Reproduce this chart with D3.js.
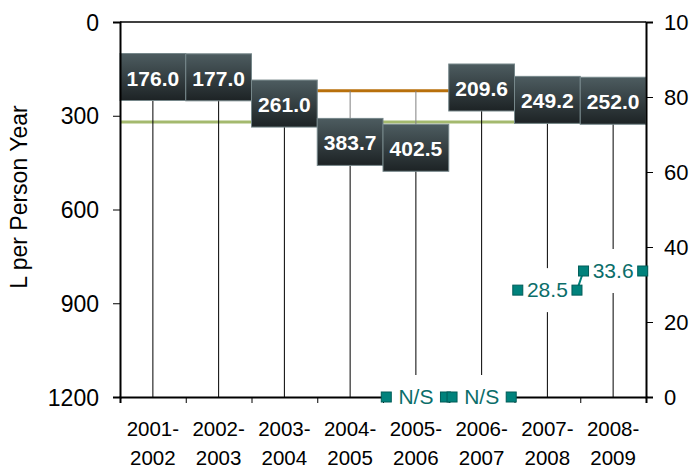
<!DOCTYPE html>
<html>
<head>
<meta charset="utf-8">
<script src="https://cdn.jsdelivr.net/npm/d3@7"></script>
<style>
  body { margin: 0; background: #fff; }
  text { font-family: "Liberation Sans", Arial, Helvetica, sans-serif; }
</style>
</head>
<body>
<div id="chart"></div>
<script>
const width = 689;
const height = 468;

// data
const categories = ["2001-2002", "2002-2003", "2003-2004", "2004-2005", "2005-2006", "2006-2007", "2007-2008", "2008-2009"];
const consumption = [176.0, 177.0, 261.0, 383.7, 402.5, 209.6, 249.2, 252.0];
const upperTarget = [220];   // orange reference
const lowerTarget = [320];   // green reference
const shareCategories = ["2005-2006", "2006-2007", "2007-2008", "2008-2009"];
const shareValues = [0, 0, 28.5, 33.6];
const shareLabels = ["N/S", "N/S", "28.5", "33.6"];
const leftTicks = [0, 300, 600, 900, 1200];
const rightTicks = [0, 20, 40, 60, 80, 100];

const plotLeft = 120, plotRight = 646, plotTop = 22, plotBottom = 397;

const svg = d3.select("#chart").append("svg")
    .attr("width", width)
    .attr("height", height);

const x = d3.scaleBand().domain(categories).range([plotLeft, plotRight]).padding(0);
const xi = d3.scaleLinear().domain([0, categories.length]).range([plotLeft, plotRight]);
const yL = d3.scaleLinear().domain([0, 1200]).range([plotTop, plotBottom]);
const yR = d3.scaleLinear().domain([0, 100]).range([plotBottom, plotTop]);
const bw = x.bandwidth();
const cx = c => x(c) + bw / 2;

// gradient for label boxes
const defs = svg.append("defs");
const grad = defs.append("linearGradient").attr("id", "boxGrad")
    .attr("x1", 0).attr("y1", 0).attr("x2", 0).attr("y2", 1);
grad.append("stop").attr("offset", "0%").attr("stop-color", "#4d5c60");
grad.append("stop").attr("offset", "100%").attr("stop-color", "#1d2325");

// top border
svg.append("line")
    .attr("x1", plotLeft).attr("x2", plotRight)
    .attr("y1", plotTop).attr("y2", plotTop)
    .attr("stroke", "#000").attr("stroke-width", 1.5);

// reference lines
svg.append("line")
    .attr("x1", plotLeft).attr("x2", plotRight)
    .attr("y1", yL(upperTarget[0])).attr("y2", yL(upperTarget[0]))
    .attr("stroke", "#b8700c").attr("stroke-width", 3);

svg.append("line")
    .attr("x1", plotLeft).attr("x2", plotRight)
    .attr("y1", yL(lowerTarget[0])).attr("y2", yL(lowerTarget[0]))
    .attr("stroke", "#a4b96e").attr("stroke-width", 3);

// high-low lines (grey) and drop lines (black)
svg.append("g").selectAll("line")
    .data(categories)
    .join("line")
    .attr("x1", d => cx(d)).attr("x2", d => cx(d))
    .attr("y1", yL(upperTarget[0]))
    .attr("y2", (d, i) => yL(consumption[i]))
    .attr("stroke", "#808080").attr("stroke-width", 1);

svg.append("g").selectAll("line")
    .data(categories)
    .join("line")
    .attr("x1", d => cx(d)).attr("x2", d => cx(d))
    .attr("y1", (d, i) => yL(consumption[i]))
    .attr("y2", yL(1200))
    .attr("stroke", "#000").attr("stroke-width", 1);

// value boxes
const boxH = 47;
const boxes = svg.append("g").selectAll("g")
    .data(categories)
    .join("g")
    .attr("transform", (d, i) => `translate(${cx(d)},${yL(consumption[i])})`);

boxes.append("rect")
    .attr("x", -bw / 2).attr("y", -boxH / 2)
    .attr("width", bw).attr("height", boxH)
    .attr("fill", "url(#boxGrad)")
    .attr("stroke", "#76878a").attr("stroke-width", 1);

boxes.append("text")
    .attr("text-anchor", "middle")
    .attr("dy", "0.36em")
    .attr("y", 1)
    .style("font-size", "21px")
    .style("font-weight", "bold")
    .style("fill", "#fff")
    .text((d, i) => consumption[i].toFixed(1));

// left axis
const leftAxis = svg.append("g")
    .attr("transform", `translate(${plotLeft},0)`)
    .call(d3.axisLeft(yL).tickValues(leftTicks).tickFormat(d3.format("d")).tickSize(7).tickPadding(14));
leftAxis.select(".domain").attr("stroke-width", 2);
leftAxis.selectAll("text").style("font-size", "23px").attr("dy", "0.35em");

// right axis (labels run past the right edge, as in the original)
const rightAxis = svg.append("g")
    .attr("transform", `translate(${plotRight},0)`)
    .call(d3.axisRight(yR).tickValues(rightTicks).tickFormat(d3.format("d")).tickSize(7).tickPadding(11));
rightAxis.select(".domain").attr("stroke-width", 2);
rightAxis.selectAll("text").style("font-size", "22px").attr("dy", "0.35em");

// bottom axis: ticks at category boundaries
const bottomAxis = svg.append("g")
    .attr("transform", `translate(0,${plotBottom})`)
    .call(d3.axisBottom(xi).ticks(categories.length).tickFormat("").tickSize(6).tickSizeOuter(6));
bottomAxis.select(".domain").attr("stroke-width", 2);

// category labels (two lines)
const catLabels = svg.append("g").selectAll("text")
    .data(categories)
    .join("text")
    .attr("text-anchor", "middle")
    .style("font-size", "20.5px")
    .style("fill", "#000");
catLabels.append("tspan")
    .attr("x", d => cx(d)).attr("y", 436)
    .text(d => d.split("-")[0] + "-");
catLabels.append("tspan")
    .attr("x", d => cx(d)).attr("y", 465)
    .text(d => d.split("-")[1]);

// y-axis title
svg.append("text")
    .attr("transform", "translate(27,197) rotate(-90)")
    .attr("text-anchor", "middle")
    .style("font-size", "23px")
    .text("L per Person Year");

// share series (right axis), one segment per category
const teal = "#00827c";
const sharePts = [];
shareCategories.forEach((c, i) => {
    sharePts.push({ x: x(c) + bw * 0.05, y: yR(shareValues[i]), grp: i < 2 ? 0 : 1 });
    sharePts.push({ x: x(c) + bw * 0.95, y: yR(shareValues[i]), grp: i < 2 ? 0 : 1 });
});
const lineGen = d3.line().x(d => d.x).y(d => d.y);
[0, 1].forEach(g => {
    svg.append("path")
        .datum(sharePts.filter(p => p.grp === g))
        .attr("d", lineGen)
        .attr("fill", "none")
        .attr("stroke", teal)
        .attr("stroke-width", 2);
});

// share labels with white background
const shareLab = svg.append("g").selectAll("g")
    .data(shareCategories)
    .join("g")
    .attr("transform", (d, i) => `translate(${cx(d)},${yR(shareValues[i])})`);
shareLab.append("rect")
    .attr("x", -25).attr("y", -22)
    .attr("width", 50).attr("height", 44)
    .attr("fill", "#fff");
shareLab.append("text")
    .attr("text-anchor", "middle")
    .attr("dy", "0.35em")
    .style("font-size", "21px")
    .style("fill", "#0b6e6a")
    .text((d, i) => shareLabels[i]);

// markers
svg.append("g").selectAll("rect")
    .data(sharePts)
    .join("rect")
    .attr("x", d => d.x - 5).attr("y", d => d.y - 5)
    .attr("width", 10).attr("height", 10)
    .attr("fill", teal)
    .attr("stroke", "#005c58").attr("stroke-width", 1);
</script>
</body>
</html>
